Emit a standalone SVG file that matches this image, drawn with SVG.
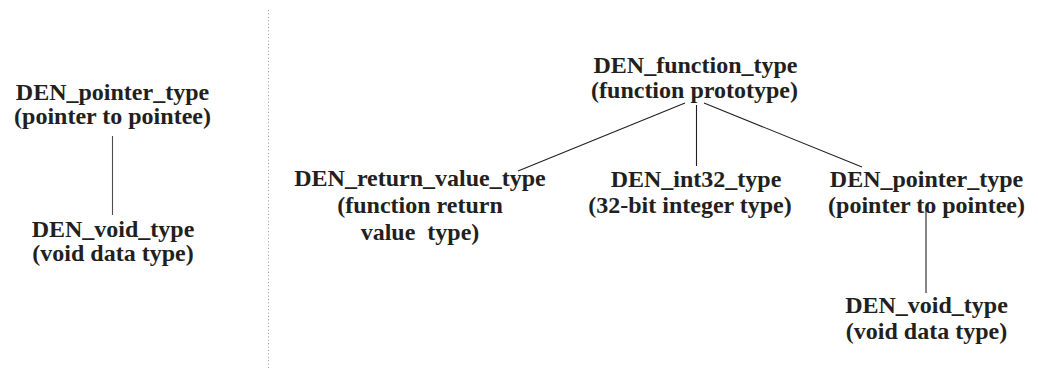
<svg xmlns="http://www.w3.org/2000/svg" width="1038" height="370" viewBox="0 0 1038 370">
  <style>
    text { font-family: "Liberation Serif", "Times New Roman", serif; font-weight: bold; font-size: 24px; fill: #231f20; text-anchor: middle; white-space: pre; }
    .link { stroke: #231f20; stroke-width: 1.1; fill: none; }
    .divider { stroke: #9a9a9a; stroke-width: 1; stroke-dasharray: 1 2.4; fill: none; }
  </style>
  <rect width="1038" height="370" fill="#ffffff"/>

  <!-- separator between the two type trees -->
  <line class="divider" x1="268.5" y1="10" x2="268.5" y2="368"/>

  <g id="connectors">
    <line class="link" x1="112.5" y1="136" x2="112.5" y2="215" stroke-opacity="0.8"/>
    <line class="link" x1="685" y1="103" x2="518" y2="171"/>
    <line class="link" x1="696.5" y1="105" x2="696.5" y2="166"/>
    <line class="link" x1="704" y1="103" x2="862" y2="167"/>
    <line class="link" x1="926" y1="207" x2="926" y2="293"/>
  </g>

  <!-- left tree -->
  <g id="left-pointer-type">
    <text x="112.5" y="99.5">DEN_pointer_type</text>
    <text x="112.5" y="123.5">(pointer to pointee)</text>
  </g>
  <g id="left-void-type">
    <text x="113" y="236.5">DEN_void_type</text>
    <text x="113" y="261">(void data type)</text>
  </g>

  <!-- right tree -->
  <g id="function-type">
    <text x="695.5" y="73">DEN_function_type</text>
    <text x="694.5" y="98">(function prototype)</text>
  </g>
  <g id="return-value-type">
    <text x="420" y="186">DEN_return_value_type</text>
    <text x="420" y="213">(function return</text>
    <text x="420" y="240">value  type)</text>
  </g>
  <g id="int32-type">
    <text x="696" y="186.5">DEN_int32_type</text>
    <text x="690" y="213">(32-bit integer type)</text>
  </g>
  <g id="right-pointer-type">
    <text x="926.5" y="186.5">DEN_pointer_type</text>
    <text x="926.5" y="212.5">(pointer to pointee)</text>
  </g>
  <g id="right-void-type">
    <text x="926.5" y="313">DEN_void_type</text>
    <text x="926.5" y="339">(void data type)</text>
  </g>
</svg>
